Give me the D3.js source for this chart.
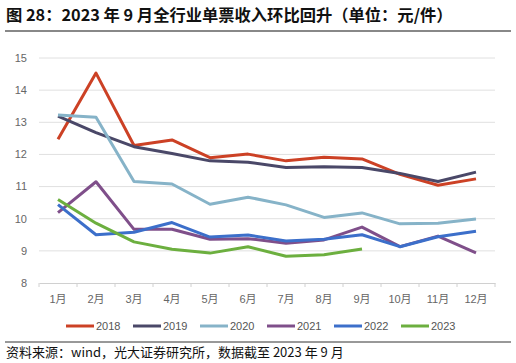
<!DOCTYPE html>
<html>
<head>
<meta charset="utf-8">
<script src="https://cdn.jsdelivr.net/npm/d3@7"></script>
<style>
  body { margin: 0; background: #fff; }
  text { font-family: "Noto Sans CJK SC", "Noto Sans", sans-serif; }
</style>
</head>
<body>
<svg id="main" width="516" height="363"></svg>
<script>
const months = ["1月","2月","3月","4月","5月","6月","7月","8月","9月","10月","11月","12月"]
const years = ["2018","2019","2020","2021","2022","2023"]
const yTicks = [8,9,10,11,12,13,14,15]

const y2018 = [12.47,14.53,12.28,12.45,11.90,12.01,11.80,11.91,11.86,11.38,11.04,11.24]
const y2019 = [13.19,12.68,12.24,12.03,11.80,11.76,11.59,11.62,11.59,11.41,11.16,11.45]
const y2020 = [13.23,13.16,11.16,11.08,10.45,10.67,10.43,10.04,10.18,9.84,9.86,9.99]
const y2021 = [10.19,11.15,9.67,9.67,9.36,9.38,9.24,9.34,9.74,9.13,9.46,8.94]
const y2022 = [10.44,9.50,9.58,9.88,9.43,9.49,9.31,9.36,9.50,9.13,9.44,9.61]
const y2023 = [10.60,9.86,9.28,9.05,8.93,9.13,8.83,8.88,9.06]

const colors = ["#CC4125","#4A4868","#86B3C8","#7F4F8A","#3C6FCA","#6CAF3F"]
const series = [y2018,y2019,y2020,y2021,y2022,y2023]

let svg = d3.select('svg#main')
const plotL = 39, plotR = 495, plotT = 58, plotB = 283

// title
svg.append("text")
    .attr("x", 6).attr("y", 21)
    .style("font-size", "16.3px").style("font-weight", "bold").attr("fill", "#111")
    .text("图 28：2023 年 9 月全行业单票收入环比回升（单位：元/件）")
svg.append("line")
    .attr("x1", 5).attr("x2", 511).attr("y1", 31).attr("y2", 31)
    .attr("stroke", "#888").attr("stroke-width", 2)

const x = d3.scaleBand().domain(months).range([plotL, plotR])
const y = d3.scaleLinear().domain([8, 15]).range([plotB, plotT])

// grid
svg.append("g").selectAll("line").data(yTicks.filter(d => d > 8)).enter()
    .append("line")
    .attr("x1", plotL).attr("x2", plotR)
    .attr("y1", d => y(d)).attr("y2", d => y(d))
    .attr("stroke", "#e0e0e0").attr("stroke-width", 1)

// y axis labels
svg.append("g").selectAll("text").data(yTicks).enter()
    .append("text")
    .attr("x", 27).attr("y", d => y(d)).attr("dy", "0.35em")
    .attr("text-anchor", "end")
    .style("font-size", "11px").attr("fill", "#666")
    .style("font-family", '"Liberation Sans", sans-serif')
    .text(d => d)

// x axis
const xAxis = svg.append("g")
    .attr("transform", "translate(0," + plotB + ")")
    .call(d3.axisBottom(x).tickSize(0).tickPadding(12))
xAxis.select(".domain").attr("stroke", "#d0d0d0")
xAxis.selectAll("text").style("font-size", "11px").attr("fill", "#666")
    .style("font-family", '"Liberation Sans", "Noto Sans CJK SC", sans-serif')
xAxis.selectAll(".boundary").data(d3.range(13)).enter()
    .append("line")
    .attr("x1", i => plotL + i * x.step()).attr("x2", i => plotL + i * x.step())
    .attr("y1", 0).attr("y2", 4)
    .attr("stroke", "#d0d0d0")

// lines
let line = d3.line()
    .x((d, i) => x(months[i]) + x.bandwidth() / 2)
    .y(d => y(d))

series.forEach((s, k) => {
    svg.append("path")
        .datum(s)
        .attr("d", line)
        .attr("fill", "none")
        .attr("stroke", colors[k])
        .attr("stroke-width", 3)
        .attr("stroke-linejoin", "round")
})

// legend
const legend = svg.append("g").selectAll("g").data(years).enter()
    .append("g")
    .attr("transform", (d, i) => `translate(${66 + i * 67},326)`)
legend.append("line")
    .attr("x1", 0).attr("x2", 28).attr("y1", 0).attr("y2", 0)
    .attr("stroke", (d, i) => colors[i]).attr("stroke-width", 3)
legend.append("text")
    .attr("x", 30).attr("y", 0).attr("dy", "0.35em")
    .style("font-size", "11px").attr("fill", "#555")
    .style("font-family", '"Liberation Sans", sans-serif')
    .text(d => d)

// footer
svg.append("line")
    .attr("x1", 5).attr("x2", 511).attr("y1", 342).attr("y2", 342)
    .attr("stroke", "#333").attr("stroke-width", 1)
svg.append("text")
    .attr("x", 6).attr("y", 357)
    .style("font-size", "13px").attr("fill", "#111")
    .text("资料来源：wind，光大证券研究所，数据截至 2023 年 9 月")
</script>
</body>
</html>
